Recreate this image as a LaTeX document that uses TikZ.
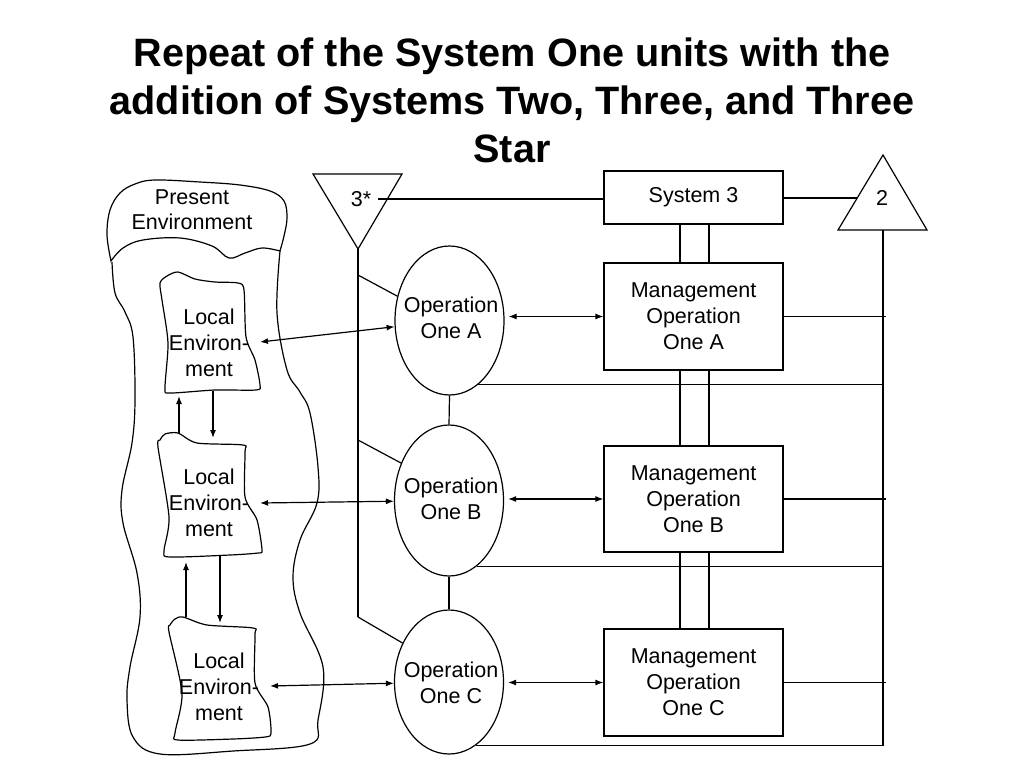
\documentclass[tikz,border=0pt]{standalone}
\usepackage{fontspec}
\setmainfont{Liberation Sans}
\usetikzlibrary{arrows.meta,shapes.geometric}
\begin{document}
\begin{tikzpicture}[x=1pt,y=-1pt,
  line width=1.2pt,
  every node/.style={font=\fontsize{21.5}{26}\selectfont, align=center, inner sep=0pt},
  mgmt/.style={draw, minimum width=179pt, minimum height=107pt},
  oval/.style={draw, ellipse, minimum width=109pt, minimum height=149pt},
  arr/.style={-{Latex[length=8pt,width=6pt]}},
  darr/.style={{Latex[length=8pt,width=6pt]}-{Latex[length=8pt,width=6pt]}},
  blob/.style={line width=1.2pt}
]
\useasboundingbox (0,0) rectangle (1024,768);

% title
\node[anchor=north, font=\fontsize{39.6}{48}\selectfont\bfseries] (title) at (512,37)
  {Repeat of the System One units with the\\addition of Systems Two, Three, and Three\\Star};

% Present environment (cap + body)
\draw[blob] plot[smooth, tension=.6] coordinates {(111,261) (107,235) (110,210) (120,193) (135,184) (155,180) (200,182) (240,185) (270,191) (284,201) (287,218) (284,236) (280,251)}
  -- plot[smooth, tension=.6] coordinates {(280,251) (262,248) (245,253) (229,258) (212,246) (180,238) (143,240) (123,248) (111,261)} -- cycle;
\draw[blob] plot[smooth, tension=.6] coordinates {(112,262) (115,293) (125,312) (133,337) (135,400) (132,443) (122,490) (123,523) (137,573) (140,617) (130,667) (127,700) (133,737) (160,754) (233,751) (310,744) (318,720) (323,667) (300,613) (293,577) (300,540) (317,503) (318,467) (310,413) (300,392) (287,370) (277,313) (280,251)};
\node (pres) at (192,210) {Present\\[-1pt]Environment};

% local environments
\draw[blob] plot[smooth cycle, tension=.45] coordinates {(160,283) (167,276) (178,272) (195,279) (215,282) (238,283) (244,290) (246,337) (255,360) (260,385) (256,390) (215,390) (170,393) (165,388) (168,343) (162,300)};
\node (leA) at (209,343) {Local\\Environ-\\ment};
\draw[blob] plot[smooth cycle, tension=.45] coordinates {(160,440) (165,434) (178,433) (197,443) (243,445) (245,452) (245,497) (257,520) (262,550) (258,553) (230,555) (170,557) (164,551) (169,517) (158,447)};
\node (leB) at (209,503) {Local\\Environ-\\ment};
\draw[blob] plot[smooth cycle, tension=.45] coordinates {(170,625) (175,619) (183,617) (207,625) (253,628) (255,635) (255,683) (268,707) (271,733) (265,737) (233,739) (178,740) (175,733) (182,693) (169,632)};
\node (leC) at (219,687) {Local\\Environ-\\ment};

\coordinate (leAr) at (260,342);
\coordinate (leBr) at (260,503);
\coordinate (leCr) at (270,686);
\coordinate (leAbl) at (179,396);
\coordinate (leBtl) at (179,433);
\coordinate (leAbr) at (213,391);
\coordinate (leBtr) at (213,438);
\coordinate (leBbl) at (186,562);
\coordinate (leCtl) at (186,617);
\coordinate (leBbr) at (220,556);
\coordinate (leCtr) at (220,623);
\draw[arr] (leBtl) -- (leAbl);
\draw[arr] (leAbr) -- (leBtr);
\draw[arr] (leCtl) -- (leBbl);
\draw[arr] (leBbr) -- (leCtr);

% 3* triangle
\coordinate (t3l) at (313,174);
\coordinate (t3r) at (402,174);
\coordinate (t3apex) at (358,249);
\draw (t3l) -- (t3r) -- (t3apex) -- cycle;
\node (t3s) at (361,199) {3*};
\coordinate (t3bot) at (358,617);
\draw (t3apex) -- (t3bot);

% 2 triangle
\coordinate (t2apex) at (883,155);
\coordinate (t2r) at (927,230);
\coordinate (t2l) at (838,230);
\draw (t2apex) -- (t2r) -- (t2l) -- cycle;
\node (t2s) at (882,198) {2};
\coordinate (t2edge) at (857,198);
\coordinate (s2top) at (883,230);
\coordinate (s2bot) at (883,745);

% System 3
\node[draw, minimum width=179pt, minimum height=53pt] (sys3) at (693.5,197.5) {System 3};
\draw (t3s.east) ++(6,0) coordinate (t3line) -- (t3line -| sys3.west);
\draw (sys3.east) -- (t2edge -| sys3.east) -- (t2edge);

% operations (ellipse outlines, then their texts)
\node[oval] (opA) at (449.5,320.5) {};
\node[oval, minimum height=151pt] (opB) at (449,500.5) {};
\node[oval, minimum height=144pt] (opC) at (449,682) {};
\node (opAt) at (451,318) {Operation\\One A};
\node (opBt) at (451,499) {Operation\\One B};
\node (opCt) at (451,683) {Operation\\One C};

% management
\node[mgmt] (mA) at (693.5,316.5) {Management\\Operation\\One A};
\node[mgmt, minimum height=106pt] (mB) at (693.5,499) {Management\\Operation\\One B};
\node[mgmt] (mC) at (693.5,682.5) {Management\\Operation\\One C};

% double lines
\foreach \u/\l in {sys3/mA, mA/mB, mB/mC}{
  \draw ([xshift=-13.5pt]\u.south) -- ([xshift=-13.5pt]\l.north);
  \draw ([xshift=15.5pt]\u.south) -- ([xshift=15.5pt]\l.north);
}

% arrows op <-> mgmt
\draw[darr] ([xshift=4pt]opA.east |- mA.west) -- (mA.west);
\draw[darr] ([xshift=4pt]opB.east |- mB.west) -- (mB.west);
\draw[darr] ([xshift=4pt]opC.east |- mC.west) -- (mC.west);

% arrows local env <-> op
\draw[darr] (leAr) -- (opA);
\draw[darr] (leBr) -- (opB);
\draw[darr] (leCr) -- (opC);

% 3* diagonals
\coordinate (dA) at (358,275);
\coordinate (dB) at (358,440);
\draw (dA) -- (opA.155);
\draw (dB) -- (opB.142);
\draw (t3bot) -- (opC.140);

% op chain
\draw (opA.south) -- (opB.north);
\draw (opB.south) -- (opC.north);

% horizontal lines to system 2
\draw (opA.-66) -- (opA.-66 -| s2bot);
\draw (opB.-67.5) -- (opB.-67.5 -| s2bot);
\draw (opC.-67.3) -- (opC.-67.3 -| s2bot) -- (s2top);
\draw (mA.east) -- ([xshift=3pt]mA.east -| s2bot);
\draw (mB.east) -- ([xshift=3pt]mB.east -| s2bot);
\draw (mC.east) -- ([xshift=3pt]mC.east -| s2bot);
\end{tikzpicture}
\end{document}
